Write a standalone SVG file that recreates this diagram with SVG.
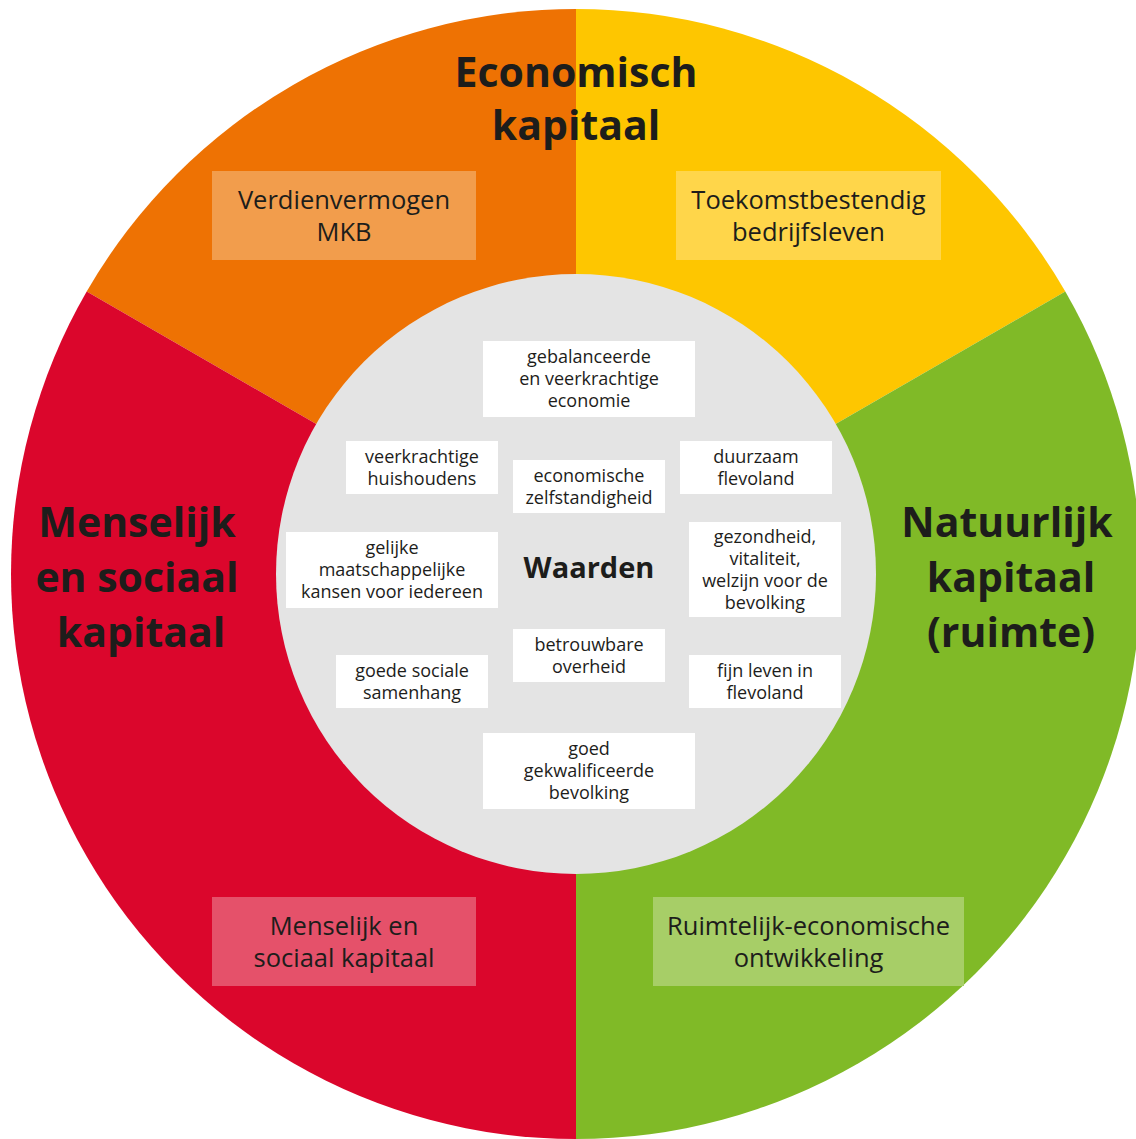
<svg xmlns="http://www.w3.org/2000/svg" width="1136" height="1139" viewBox="0 0 1136 1139">
<style>
.h{font-family:"Open Sans","Noto Sans",sans-serif;font-weight:700;font-size:41px;fill:#1d1d1b;text-anchor:middle}
.b{font-family:"Open Sans","Noto Sans",sans-serif;font-size:25.5px;fill:#1d1d1b;text-anchor:middle}
.s{font-family:"Open Sans","Noto Sans",sans-serif;font-size:18px;fill:#1d1d1b;text-anchor:middle}
.w{font-family:"Open Sans","Noto Sans",sans-serif;font-weight:700;font-size:29px;fill:#1d1d1b;text-anchor:middle}
.box{fill:#ffffff}
</style>
<rect width="1136" height="1139" fill="#ffffff"/>
<g id="sectors">
<path d="M576,574 L576,9 A565,565 0 0 0 86.7,291.5 Z" fill="#EE7203"/>
<path d="M576,574 L576,9 A565,565 0 0 1 1065.3,291.5 Z" fill="#FEC600"/>
<path d="M576,574 L1065.3,291.5 A565,565 0 0 1 576,1139 Z" fill="#80BA27"/>
<path d="M576,574 L576,1139 A565,565 0 0 1 86.7,291.5 Z" fill="#DB062C"/>
</g>
<g id="titles">
<text class="h" x="576" y="87">Economisch</text>
<text class="h" x="576" y="140">kapitaal</text>
<text class="h" x="137" y="537">Menselijk</text>
<text class="h" x="137" y="592">en sociaal</text>
<text class="h" x="141" y="647">kapitaal</text>
<text class="h" x="1007" y="537">Natuurlijk</text>
<text class="h" x="1011" y="592">kapitaal</text>
<text class="h" x="1011" y="647">(ruimte)</text>
</g>
<g id="box-verdienvermogen">
<rect x="212" y="171" width="264" height="89" fill="#F29D4C"/>
<text class="b" x="344" y="209">Verdienvermogen</text>
<text class="b" x="344" y="241">MKB</text>
</g>
<g id="box-toekomst">
<rect x="676" y="171" width="265" height="89" fill="#FFD64A"/>
<text class="b" x="808.5" y="209">Toekomstbestendig</text>
<text class="b" x="808.5" y="241">bedrijfsleven</text>
</g>
<g id="box-menselijk">
<rect x="212" y="897" width="264" height="89" fill="#E5516A"/>
<text class="b" x="344" y="935">Menselijk en</text>
<text class="b" x="344" y="967">sociaal kapitaal</text>
</g>
<g id="box-ruimtelijk">
<rect x="653" y="897" width="311" height="89" fill="#A7CE67"/>
<text class="b" x="808.5" y="935">Ruimtelijk-economische</text>
<text class="b" x="808.5" y="967">ontwikkeling</text>
</g>
<g id="waarden">
<circle cx="576" cy="574" r="300" fill="#E4E4E4"/>
<text class="w" x="589" y="578">Waarden</text>
</g>
<g id="v-gebalanceerde">
<rect class="box" x="483" y="341" width="212" height="76"/>
<text class="s" x="589" y="363">gebalanceerde</text>
<text class="s" x="589" y="385">en veerkrachtige</text>
<text class="s" x="589" y="407">economie</text>
</g>
<g id="v-huishoudens">
<rect class="box" x="346" y="441" width="152" height="53"/>
<text class="s" x="422" y="463">veerkrachtige</text>
<text class="s" x="422" y="485">huishoudens</text>
</g>
<g id="v-zelfstandigheid">
<rect class="box" x="513" y="460" width="152" height="53"/>
<text class="s" x="589" y="482">economische</text>
<text class="s" x="589" y="504">zelfstandigheid</text>
</g>
<g id="v-duurzaam">
<rect class="box" x="680" y="441" width="152" height="53"/>
<text class="s" x="756" y="463">duurzaam</text>
<text class="s" x="756" y="485">flevoland</text>
</g>
<g id="v-gelijke">
<rect class="box" x="286" y="532" width="212" height="76"/>
<text class="s" x="392" y="554">gelijke</text>
<text class="s" x="392" y="576">maatschappelijke</text>
<text class="s" x="392" y="598">kansen voor iedereen</text>
</g>
<g id="v-gezondheid">
<rect class="box" x="689" y="522" width="152" height="95"/>
<text class="s" x="765" y="542.5">gezondheid,</text>
<text class="s" x="765" y="564.5">vitaliteit,</text>
<text class="s" x="765" y="586.5">welzijn voor de</text>
<text class="s" x="765" y="608.5">bevolking</text>
</g>
<g id="v-overheid">
<rect class="box" x="513" y="629" width="152" height="53"/>
<text class="s" x="589" y="651">betrouwbare</text>
<text class="s" x="589" y="673">overheid</text>
</g>
<g id="v-samenhang">
<rect class="box" x="336" y="655" width="152" height="53"/>
<text class="s" x="412" y="677">goede sociale</text>
<text class="s" x="412" y="699">samenhang</text>
</g>
<g id="v-fijn">
<rect class="box" x="689" y="655" width="152" height="53"/>
<text class="s" x="765" y="677">fijn leven in</text>
<text class="s" x="765" y="699">flevoland</text>
</g>
<g id="v-gekwalificeerde">
<rect class="box" x="483" y="733" width="212" height="76"/>
<text class="s" x="589" y="755">goed</text>
<text class="s" x="589" y="777">gekwalificeerde</text>
<text class="s" x="589" y="799">bevolking</text>
</g>
<g id="connectors"></g>
</svg>
